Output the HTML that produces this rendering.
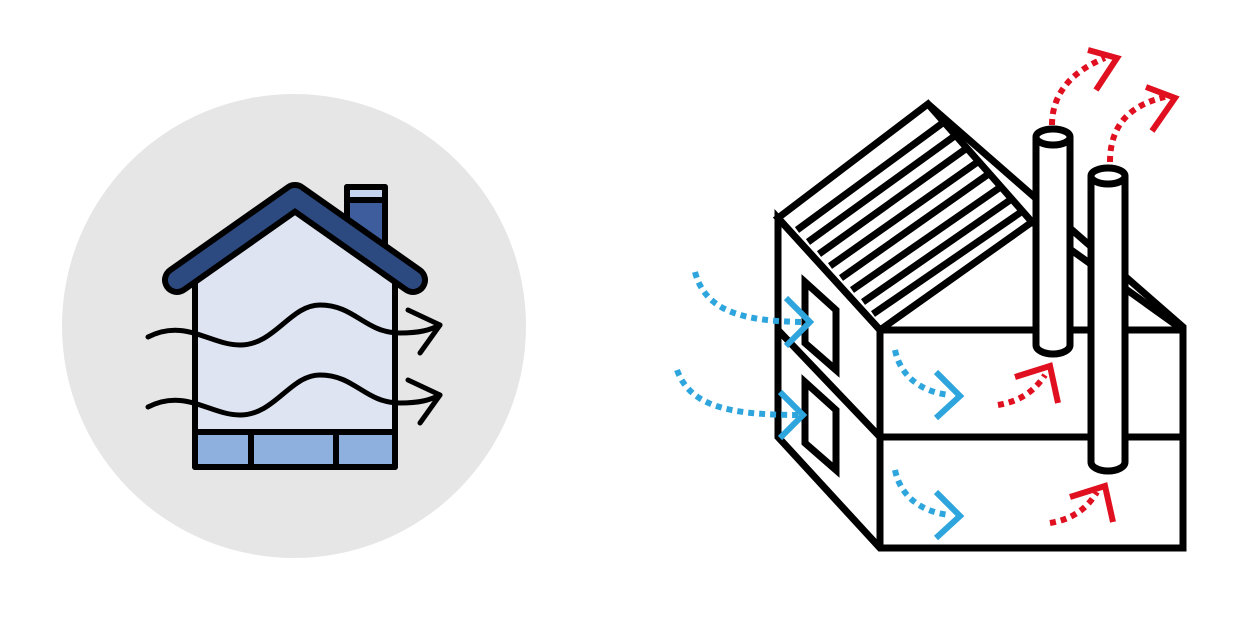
<!DOCTYPE html>
<html><head><meta charset="utf-8"><style>html,body{margin:0;padding:0;background:#fff}svg{display:block}</style></head>
<body>
<svg width="1256" height="628" viewBox="0 0 1256 628" xmlns="http://www.w3.org/2000/svg">
<circle cx="294" cy="326" r="232" fill="#e6e6e6"/>
<!-- left house -->
<g stroke="#000" stroke-width="6" stroke-linejoin="round" stroke-linecap="round">
  <rect x="347" y="187" width="38" height="60" fill="#3e5d9c"/>
  <rect x="347" y="187" width="38" height="13" fill="#c5d3ee"/>
  <path d="M195 280 L295 210 L395 280 L395 467 L195 467 Z" fill="#dfe4f2"/>
  <rect x="195" y="432" width="200" height="35" fill="#8eb0de"/>
  <line x1="251" y1="432" x2="251" y2="467"/>
  <line x1="336" y1="432" x2="336" y2="467"/>
</g>
<path d="M177 280 L295 197 L413 280" fill="none" stroke="#000" stroke-width="30" stroke-linecap="round" stroke-linejoin="round"/>
<path d="M177 280 L295 197 L413 280" fill="none" stroke="#2c4a80" stroke-width="18" stroke-linecap="round" stroke-linejoin="round"/>
<g fill="none" stroke="#000" stroke-width="5" stroke-linecap="round" stroke-linejoin="round">
  <path d="M148 337 C185 318 210 345 240 345 C275 345 290 305 320 305 C355 305 365 333 400 333 C420 333 430 330 440 325"/>
  <path d="M408 310 L440 325 L420 353"/>
  <path d="M148 407 C185 388 210 415 240 415 C275 415 290 375 320 375 C355 375 365 403 400 403 C420 403 430 400 440 395"/>
  <path d="M408 380 L440 395 L420 423"/>
</g>
<!-- right house -->
<g fill="none" stroke="#000" stroke-width="7" stroke-linejoin="miter" stroke-linecap="butt">
  <path d="M778 218 L928 104 L1032 222 L880 330 Z" fill="#fff"/>
  <path d="M928 104 L1183 327 L1183 548 L880 548 L778 437 L778 218 L880 330 L880 548"/>
  <path d="M1032 222 L1183 330"/>
  <path d="M880 330 L1183 330"/>
  <path d="M880 437 L1183 437"/>
  <path d="M778 330 L880 437"/>
  <path d="M805 282 L836 310 L836 370 L805 343 Z"/>
  <path d="M805 382 L836 410 L836 470 L805 443 Z"/>
  <line x1="797" y1="230" x2="944" y2="122"/>
  <line x1="808" y1="242" x2="956" y2="135"/>
  <line x1="819" y1="254" x2="967" y2="148"/>
  <line x1="830" y1="266" x2="979" y2="161"/>
  <line x1="841" y1="278" x2="990" y2="173"/>
  <line x1="852" y1="290" x2="1002" y2="186"/>
  <line x1="863" y1="302" x2="1013" y2="198"/>
  <line x1="873" y1="314" x2="1024" y2="210"/>
  <!-- pipes -->
  <path d="M1036 137 L1036 345 A17 9 0 0 0 1070 345 L1070 137" fill="#fff"/>
  <ellipse cx="1053" cy="137" rx="17" ry="8" fill="#fff"/>
  <path d="M1091 176 L1091 462 A17 9 0 0 0 1125 462 L1125 176" fill="#fff"/>
  <ellipse cx="1108" cy="176" rx="17" ry="8" fill="#fff"/>
</g>
<!-- blue arrows -->
<g fill="none" stroke="#2ea6dd" stroke-width="6">
  <path d="M695 272 C705 310 740 322 808 322" stroke-dasharray="6 5"/>
  <path d="M786 298 L810 322 L786 346"/>
  <path d="M677 370 C690 405 725 415 800 415" stroke-dasharray="6 5"/>
  <path d="M780 392 L803 415 L780 438"/>
  <path d="M895 350 C900 375 920 392 950 395" stroke-dasharray="6 5"/>
  <path d="M936 372 L960 396 L936 418"/>
  <path d="M895 470 C900 495 920 512 950 515" stroke-dasharray="6 5"/>
  <path d="M936 492 L960 516 L936 538"/>
</g>
<!-- red arrows -->
<g fill="none" stroke="#e01020" stroke-width="6">
  <path d="M998 405 C1015 402 1032 395 1045 375" stroke-dasharray="6 5"/>
  <path d="M1015 377 L1050 366 L1058 403"/>
  <path d="M1050 523 C1068 520 1085 512 1097 492" stroke-dasharray="6 5"/>
  <path d="M1070 497 L1105 486 L1113 522"/>
  <path d="M1052 125 C1052 95 1070 72 1105 58" stroke-dasharray="6 5"/>
  <path d="M1088 50 L1117 58 L1096 90"/>
  <path d="M1110 162 C1110 125 1130 105 1165 97" stroke-dasharray="6 5"/>
  <path d="M1146 87 L1175 98 L1152 131"/>
</g>
</svg>
</body></html>
